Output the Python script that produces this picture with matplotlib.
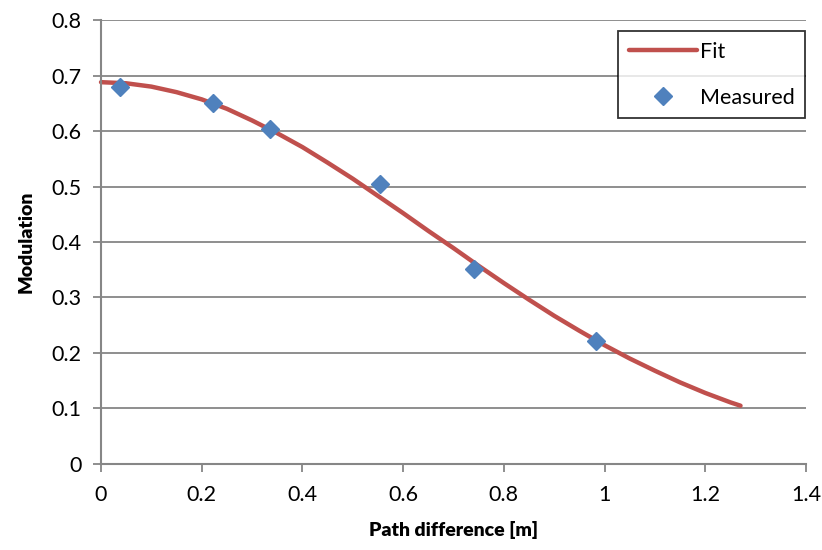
import matplotlib
matplotlib.use("Agg")
import matplotlib.pyplot as plt

# fit curve
fit_x = [0.0, 0.05, 0.1, 0.15, 0.2, 0.25, 0.3, 0.35, 0.4, 0.45, 0.5, 0.55, 0.6,
         0.65, 0.7, 0.75, 0.8, 0.85, 0.9, 0.95, 1.0, 1.05, 1.1, 1.15, 1.2, 1.25, 1.27]
fit_y = [0.688, 0.686, 0.680, 0.670, 0.657, 0.640, 0.619, 0.596, 0.571, 0.543, 0.514,
         0.483, 0.452, 0.420, 0.389, 0.357, 0.326, 0.296, 0.267, 0.240, 0.214, 0.190,
         0.168, 0.147, 0.128, 0.111, 0.105]

# measured points
meas_x = [0.038, 0.222, 0.336, 0.554, 0.741, 0.983]
meas_y = [0.680, 0.651, 0.603, 0.504, 0.352, 0.222]

x_ticks = [0, 0.2, 0.4, 0.6, 0.8, 1, 1.2, 1.4]
y_ticks = [0, 0.1, 0.2, 0.3, 0.4, 0.5, 0.6, 0.7, 0.8]

plt.rcParams['font.family'] = ['Lato', 'DejaVu Sans']

fig = plt.figure(figsize=(8.22, 5.5), dpi=100)
ax = fig.add_axes([0.1229, 0.1564, 0.8576, 0.8072])

grid_col = '#868686'
ax.set_xlim(0, 1.4)
ax.set_ylim(0, 0.8)
ax.set_xticks(x_ticks)
ax.set_xticklabels(['0', '0.2', '0.4', '0.6', '0.8', '1', '1.2', '1.4'])
ax.set_yticks(y_ticks)
ax.set_yticklabels(['0', '0.1', '0.2', '0.3', '0.4', '0.5', '0.6', '0.7', '0.8'])
ax.yaxis.grid(True, color=grid_col, linewidth=1.3)
ax.set_axisbelow(True)
for s in ['top', 'right']:
    ax.spines[s].set_visible(False)
for s in ['left', 'bottom']:
    ax.spines[s].set_color(grid_col)
    ax.spines[s].set_linewidth(1.5)
ax.tick_params(axis='both', colors=grid_col, length=6, width=1.3,
               labelsize=15.5, labelcolor='black')
ax.tick_params(axis='x', pad=9)
ax.tick_params(axis='y', pad=8)

ax.plot(fit_x, fit_y, color='#C0504D', linewidth=3.2, label='Fit',
        solid_capstyle='round', clip_on=False)
ax.plot(meas_x, meas_y, linestyle='none', marker='D', markersize=9.5,
        color='#4F81BD', label='Measured', clip_on=False)

ax.set_xlabel('Path difference [m]', fontsize=14, fontweight='heavy', labelpad=12)
ax.set_ylabel('Modulation', fontsize=14, fontweight='heavy', labelpad=12)

leg = ax.legend(loc='upper left', bbox_to_anchor=(0.733, 0.975), fontsize=15.5,
                frameon=True, fancybox=False, edgecolor='black',
                handlelength=3.2, handletextpad=0.1, borderpad=0.5,
                labelspacing=1.2, borderaxespad=0)
leg.get_frame().set_linewidth(1.3)

fig.savefig('out.png', dpi=100)
